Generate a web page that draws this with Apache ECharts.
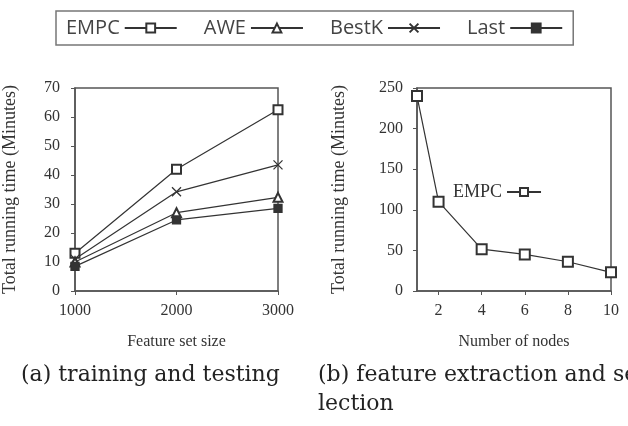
<!DOCTYPE html>
<html>
<head>
<meta charset="utf-8">
<script src="https://cdn.jsdelivr.net/npm/echarts@6/dist/echarts.min.js"></script>
<style>
  html, body { margin: 0; padding: 0; background: #fff; }
  #chart { width: 628px; height: 426px; }
</style>
</head>
<body>
<div id="chart"></div>
<script>
// (a) training and testing
var featureSizes = [1000, 2000, 3000];
var empcTrain = [13, 42, 62.5];
var aweTrain = [10, 27, 32.3];
var bestkTrain = [11, 34.2, 43.5];
var lastTrain = [8.5, 24.5, 28.5];

// (b) feature extraction and selection
var nodeCategories = ['1', '2', '3', '4', '5', '6', '7', '8', '9', '10'];
var nodeCounts = ['1', '2', '4', '6', '8', '10'];
var empcExtract = [240, 110, 51.5, 45, 36, 23];

var lineColor = '#333';
var axisColor = '#555';
var textColor = '#333';
var serif = '"Liberation Serif", "Times New Roman", serif';
var captionFont = '22px "DejaVu Serif", serif';

function pairs(xs, ys) {
    return xs.map(function (x, i) { return [x, ys[i]]; });
}

var crossPath = 'path://M0,0L10,10M10,0L0,10';

var chart = echarts.init(document.getElementById('chart'), null, { renderer: 'canvas' });

function lineSeries(name, data, symbol, size, xIdx) {
    return {
        name: name,
        type: 'line',
        xAxisIndex: xIdx,
        yAxisIndex: xIdx,
        data: data,
        symbol: symbol,
        symbolSize: size,
        showSymbol: true,
        clip: false,
        lineStyle: { color: lineColor, width: 1.2 },
        itemStyle: {
            color: lineColor,
            borderColor: lineColor,
            borderWidth: 1.3
        }
    };
}

var option = {
    animation: false,
    backgroundColor: '#fff',
    legend: [
        {
            data: ['EMPC', 'AWE', 'BestK', 'Last'],
            left: 56,
            top: 11,
            width: 518,
            height: 36,
            align: 'right',
            itemWidth: 52,
            itemHeight: 11,
            itemGap: 26,
            padding: [7, 10, 7, 10],
            borderColor: '#777',
            borderWidth: 1.5,
            selectedMode: false,
            textStyle: { fontFamily: '"Open Sans", sans-serif', fontSize: 20, color: '#444' }
        },
        {
            data: ['EMPC'],
            left: 448,
            top: 178,
            align: 'right',
            itemWidth: 34,
            itemHeight: 10,
            selectedMode: false,
            textStyle: { fontFamily: serif, fontSize: 18, color: textColor }
        }
    ],
    grid: [
        { left: 73, top: 88, width: 205, height: 203, show: true, borderColor: axisColor, borderWidth: 1.5 },
        { left: 417, top: 88, width: 194, height: 203, show: true, borderColor: axisColor, borderWidth: 1.5 }
    ],
    xAxis: [
        {
            type: 'value',
            gridIndex: 0,
            min: 1000,
            max: 3000,
            interval: 1000,
            name: 'Feature set size',
            nameLocation: 'middle',
            nameGap: 43,
            nameTextStyle: { fontFamily: serif, fontSize: 16, color: textColor },
            axisLine: { lineStyle: { color: axisColor, width: 1.5 } },
            axisTick: { show: true, length: 4, lineStyle: { color: axisColor } },
            axisLabel: {
                fontFamily: serif, fontSize: 16, color: textColor, margin: 12,
                formatter: function (v) { return String(v); }
            },
            splitLine: { show: false }
        },
        {
            type: 'category',
            gridIndex: 1,
            data: nodeCategories,
            boundaryGap: false,
            name: 'Number of nodes',
            nameLocation: 'middle',
            nameGap: 43,
            nameTextStyle: { fontFamily: serif, fontSize: 16, color: textColor },
            axisLine: { lineStyle: { color: axisColor, width: 1.5 } },
            axisTick: {
                show: true,
                length: 4,
                lineStyle: { color: axisColor },
                interval: function (idx, val) { return Number(val) % 2 === 0; }
            },
            axisLabel: {
                fontFamily: serif,
                fontSize: 16,
                color: textColor,
                margin: 12,
                interval: function (idx, val) { return Number(val) % 2 === 0; }
            },
            splitLine: { show: false }
        }
    ],
    yAxis: [
        {
            type: 'value',
            gridIndex: 0,
            min: 0,
            max: 70,
            interval: 10,
            name: 'Total running time (Minutes)',
            nameLocation: 'middle',
            nameGap: 56,
            nameTextStyle: { fontFamily: serif, fontSize: 18, color: textColor },
            axisLine: { show: true, lineStyle: { color: axisColor, width: 1.5 } },
            axisTick: { show: true, length: 4, lineStyle: { color: axisColor } },
            axisLabel: { fontFamily: serif, fontSize: 16, color: textColor, margin: 15 },
            splitLine: { show: false }
        },
        {
            type: 'value',
            gridIndex: 1,
            min: 0,
            max: 250,
            interval: 50,
            name: 'Total running time (Minutes)',
            nameLocation: 'middle',
            nameGap: 69,
            nameTextStyle: { fontFamily: serif, fontSize: 18, color: textColor },
            axisLine: { show: true, lineStyle: { color: axisColor, width: 1.5 } },
            axisTick: { show: true, length: 4, lineStyle: { color: axisColor } },
            axisLabel: { fontFamily: serif, fontSize: 16, color: textColor, margin: 14 },
            splitLine: { show: false }
        }
    ],
    series: [
        lineSeries('EMPC', pairs(featureSizes, empcTrain), 'emptyRect', 9, 0),
        lineSeries('AWE', pairs(featureSizes, aweTrain), 'emptyTriangle', 9, 0),
        lineSeries('BestK', pairs(featureSizes, bestkTrain), crossPath, 9, 0),
        lineSeries('Last', pairs(featureSizes, lastTrain), 'rect', 8, 0),
        lineSeries('EMPC', pairs(nodeCounts, empcExtract), 'emptyRect', 10, 1)
    ],
    graphic: [
        {
            type: 'text',
            left: 21,
            top: 364,
            style: { text: '(a) training and testing', font: captionFont, fill: '#222' }
        },
        {
            type: 'text',
            left: 318,
            top: 364,
            style: { text: '(b) feature extraction and se-', font: captionFont, fill: '#222' }
        },
        {
            type: 'text',
            left: 318,
            top: 393,
            style: { text: 'lection', font: captionFont, fill: '#222' }
        }
    ]
};

chart.setOption(option);
</script>
</body>
</html>
